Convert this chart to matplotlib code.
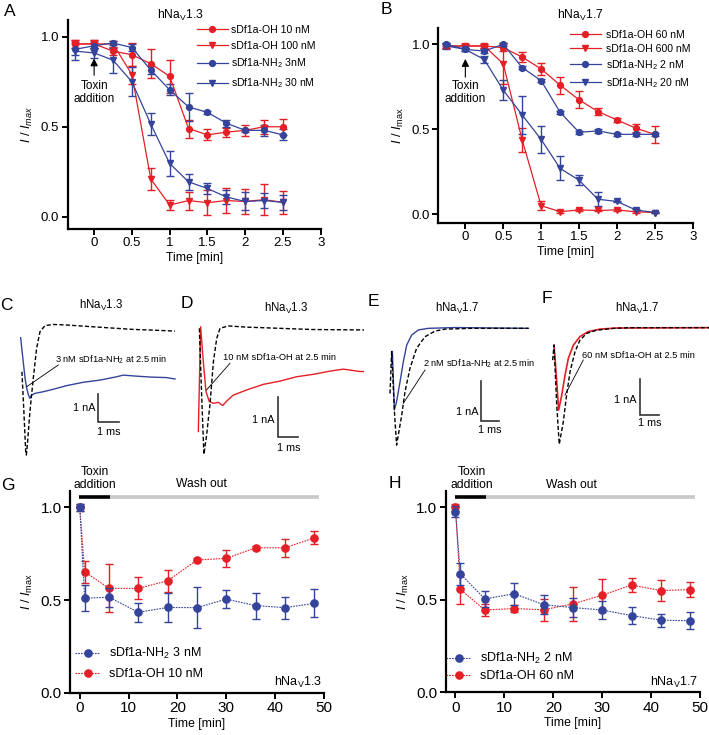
import matplotlib
matplotlib.use('Agg')
import matplotlib.pyplot as plt
from matplotlib.lines import Line2D

plt.rcParams['font.family'] = ['Liberation Sans', 'DejaVu Sans']
plt.rcParams['mathtext.fontset'] = 'custom'
plt.rcParams['mathtext.rm'] = 'Liberation Sans'
plt.rcParams['mathtext.it'] = 'Liberation Sans:italic'
plt.rcParams['mathtext.bf'] = 'Liberation Sans:bold'

RED = '#e41f26'
BLUE = '#34449a'

# ---------------- data: panel A (hNav1.3 time course) ----------------
tA = [-0.25, 0, 0.25, 0.5, 0.75, 1.0, 1.25, 1.5, 1.75, 2.0, 2.25, 2.5]
A_oh10 = [0.96, 0.96, 0.92, 0.90, 0.85, 0.78, 0.49, 0.455, 0.47, 0.48, 0.50, 0.50]
A_oh10_err = [0.02, 0.02, 0.02, 0.065, 0.08, 0.09, 0.05, 0.03, 0.025, 0.03, 0.04, 0.045]
A_oh100 = [0.96, 0.96, 0.96, 0.79, 0.21, 0.065, 0.09, 0.078, 0.09, 0.085, 0.095, 0.08]
A_oh100_err = [0.02, 0.02, 0.015, 0.05, 0.06, 0.03, 0.05, 0.07, 0.07, 0.07, 0.085, 0.065]
A_nh3 = [0.93, 0.95, 0.965, 0.94, 0.815, 0.705, 0.61, 0.58, 0.52, 0.48, 0.48, 0.455]
A_nh3_err = [0.03, 0.02, 0.01, 0.02, 0.02, 0.03, 0.08, 0.01, 0.02, 0.01, 0.03, 0.03]
A_nh30 = [0.92, 0.91, 0.87, 0.75, 0.515, 0.296, 0.194, 0.157, 0.11, 0.085, 0.09, 0.08]
A_nh30_err = [0.05, 0.03, 0.07, 0.08, 0.06, 0.07, 0.045, 0.03, 0.04, 0.05, 0.04, 0.04]

# ---------------- data: panel B (hNav1.7 time course) ----------------
tB = [-0.25, 0, 0.25, 0.5, 0.75, 1.0, 1.25, 1.5, 1.75, 2.0, 2.25, 2.5]
B_oh60 = [0.99, 0.99, 0.99, 0.98, 0.925, 0.855, 0.76, 0.673, 0.604, 0.555, 0.506, 0.47]
B_oh60_err = [0.01, 0.01, 0.01, 0.02, 0.03, 0.035, 0.05, 0.05, 0.02, 0.01, 0.025, 0.05]
B_oh600 = [0.99, 0.99, 0.99, 0.885, 0.437, 0.05, 0.015, 0.025, 0.022, 0.025, 0.014, 0.01]
B_oh600_err = [0.01, 0.01, 0.01, 0.12, 0.07, 0.025, 0.005, 0.005, 0.005, 0.005, 0.005, 0.005]
B_nh2 = [1.0, 0.97, 0.96, 1.0, 0.863, 0.786, 0.60, 0.482, 0.49, 0.47, 0.47, 0.47]
B_nh2_err = [0.01, 0.01, 0.01, 0.01, 0.01, 0.01, 0.01, 0.01, 0.01, 0.01, 0.01, 0.01]
B_nh20 = [0.99, 0.97, 0.91, 0.73, 0.584, 0.44, 0.27, 0.20, 0.088, 0.075, 0.025, 0.01]
B_nh20_err = [0.02, 0.01, 0.02, 0.06, 0.11, 0.08, 0.07, 0.03, 0.04, 0.005, 0.005, 0.005]

# ---------------- data: panels G/H (wash out) ----------------
tW = [0, 1, 6, 12, 18, 24, 30, 36, 42, 48]
G_nh3 = [1.0, 0.51, 0.515, 0.434, 0.46, 0.459, 0.505, 0.47, 0.459, 0.482]
G_nh3_err = [0.02, 0.07, 0.05, 0.05, 0.08, 0.11, 0.05, 0.07, 0.06, 0.075]
G_oh10 = [1.0, 0.653, 0.563, 0.563, 0.604, 0.716, 0.725, 0.782, 0.782, 0.835]
G_oh10_err = [0.02, 0.06, 0.13, 0.06, 0.06, 0.01, 0.045, 0.01, 0.05, 0.035]
H_nh2 = [0.977, 0.64, 0.505, 0.533, 0.474, 0.458, 0.445, 0.415, 0.39, 0.387]
H_nh2_err = [0.03, 0.06, 0.045, 0.06, 0.05, 0.05, 0.05, 0.045, 0.035, 0.045]
H_oh60 = [1.0, 0.556, 0.445, 0.453, 0.446, 0.478, 0.525, 0.58, 0.55, 0.555]
H_oh60_err = [0.02, 0.08, 0.03, 0.02, 0.06, 0.09, 0.09, 0.04, 0.055, 0.04]

# ---------------- data: current traces (ms, nA) ----------------
C_ctrl_t = [0.06, 0.16, 0.24, 0.27, 0.33, 0.44, 0.60, 0.76, 0.92, 1.16, 1.56, 2.19, 2.98, 3.78, 4.57, 5.37, 6.16, 7.35]
C_ctrl_i = [-1.51, -3.07, -4.40, -4.52, -4.04, -2.95, -1.75, -0.66, -0.06, 0.16, 0.20, 0.18, 0.14, 0.10, 0.06, 0.02, 0.0, -0.04]
C_tox_t = [0.0, 0.06, 0.13, 0.21, 0.29, 0.37, 0.44, 0.52, 0.68, 1.08, 1.56, 2.19, 2.98, 3.78, 4.57, 4.89, 5.37, 6.16, 6.95, 7.35]
C_tox_i = [-0.28, -0.72, -1.20, -1.75, -2.11, -2.35, -2.47, -2.35, -2.29, -2.23, -2.14, -2.01, -1.89, -1.81, -1.69, -1.63, -1.66, -1.70, -1.72, -1.77]

D_ctrl_t = [0.05, 0.16, 0.27, 0.40, 0.56, 0.73, 0.89, 1.05, 1.45, 2.34, 3.95, 5.56, 7.82, 8.15]
D_ctrl_i = [0.0, -1.67, -3.15, -2.67, -1.92, -0.83, -0.25, 0.0, 0.06, 0.03, 0.0, -0.03, -0.04, -0.04]
D_tox_t = [0.0, 0.11, 0.24, 0.37, 0.53, 0.73, 0.97, 1.18, 1.37, 1.69, 2.34, 3.15, 3.95, 4.76, 5.56, 6.37, 7.02, 7.82, 8.15]
D_tox_i = [-2.58, 0.04, -0.83, -1.58, -1.83, -1.875, -1.85, -1.93, -1.82, -1.67, -1.54, -1.40, -1.32, -1.21, -1.15, -1.07, -1.02, -1.08, -1.08]

E_ctrl_t = [0.0, 0.09, 0.24, 0.36, 0.64, 0.82, 1.09, 1.45, 1.91, 2.45, 3.0, 4.45, 6.27, 7.55]
E_ctrl_i = [-1.63, -0.58, -2.08, -2.92, -2.17, -1.58, -1.0, -0.5, -0.21, -0.07, -0.02, 0.0, 0.0, 0.0]
E_tox_t = [0.13, 0.24, 0.36, 0.55, 0.73, 0.91, 1.18, 1.55, 2.09, 3.55, 5.36, 7.55]
E_tox_i = [-0.58, -2.04, -1.83, -1.33, -0.83, -0.42, -0.17, -0.04, 0.0, 0.02, 0.01, 0.0]

F_ctrl_t = [0.0, 0.07, 0.21, 0.34, 0.55, 0.72, 0.90, 1.16, 1.41, 1.76, 2.28, 3.14, 4.0, 8.14]
F_ctrl_i = [-0.91, -0.49, -2.17, -3.27, -2.64, -1.89, -1.23, -0.67, -0.35, -0.16, -0.07, -0.02, 0.0, 0.0]
F_tox_t = [0.07, 0.21, 0.31, 0.47, 0.64, 0.81, 1.07, 1.41, 1.84, 2.45, 3.31, 8.14]
F_tox_i = [-0.49, -1.51, -2.31, -1.89, -1.33, -0.86, -0.49, -0.25, -0.11, -0.04, -0.01, 0.0]

# ---------------- figure helpers ----------------
W, H = 709, 735
fig = plt.figure(figsize=(W / 100, H / 100), dpi=100)


def axes_px(l, t, r, b):
    return fig.add_axes([l / W, 1 - b / H, (r - l) / W, (b - t) / H])


def ftext(x, y, s, **kw):
    kw.setdefault('ha', 'center')
    kw.setdefault('va', 'center')
    fig.text(x / W, 1 - y / H, s, **kw)


def fline(x0, y0, x1, y1, **kw):
    fig.add_artist(Line2D([x0 / W, x1 / W], [1 - y0 / H, 1 - y1 / H],
                          transform=fig.transFigure, **kw))


def style(ax, fs):
    for s in ['top', 'right']:
        ax.spines[s].set_visible(False)
    for s in ['left', 'bottom']:
        ax.spines[s].set_linewidth(1.6)
    ax.tick_params(direction='out', length=4, width=1.4, labelsize=fs, pad=2)


def series(ax, t, y, e, color, marker, label, ms, ls='-', lw=0.9, z=2):
    ax.errorbar(t, y, yerr=e, fmt='none', ecolor=color, elinewidth=1.0,
                capsize=3, capthick=1.0, zorder=z)
    ax.plot(t, y, color=color, marker=marker, ms=ms, lw=lw, ls=ls,
            label=label, zorder=z + 0.5)


# ---------------- panel A ----------------
axA = axes_px(67.7, 20, 320.7, 229)
style(axA, 9.5)
series(axA, tA, A_oh10, A_oh10_err, RED, 'o', 'sDf1a-OH 10 nM', 4.2)
series(axA, tA, A_oh100, A_oh100_err, RED, 'v', 'sDf1a-OH 100 nM', 4.5)
series(axA, tA, A_nh3, A_nh3_err, BLUE, 'o', r'sDf1a-NH$_2$ 3nM', 4.2)
series(axA, tA, A_nh30, A_nh30_err, BLUE, 'v', r'sDf1a-NH$_2$ 30 nM', 4.5)
axA.set_xlim(-0.35, 3)
axA.set_ylim(-0.068, 1.093)
axA.set_xticks([0, 0.5, 1, 1.5, 2, 2.5, 3])
axA.set_xticklabels(['0', '0.5', '1', '1.5', '2', '2.5', '3'])
axA.set_yticks([0, 0.5, 1.0])
axA.set_yticklabels(['0.0', '0.5', '1.0'])
axA.set_xlabel('Time [min]', fontsize=8.8, labelpad=2)
axA.set_ylabel(r'$I\ /\ I_{max}$', fontsize=9.2, labelpad=4)
axA.annotate('', xy=(0, 0.895), xytext=(0, 0.77),
             arrowprops=dict(arrowstyle='-|>', color='black', lw=0.8, mutation_scale=11))
axA.text(0, 0.69, 'Toxin\naddition', ha='center', va='center', fontsize=8.5, linespacing=1.15)
axA.legend(loc='upper left', bbox_to_anchor=(197 / W, 1 - 25 / H),
           bbox_transform=fig.transFigure, frameon=False, fontsize=7.6,
           handlelength=2.9, handletextpad=0.35, labelspacing=0.55,
           borderpad=0, borderaxespad=0)

# ---------------- panel B ----------------
axB = axes_px(438.3, 28.3, 692.7, 222.7)
style(axB, 9.5)
series(axB, tB, B_oh60, B_oh60_err, RED, 'o', 'sDf1a-OH 60 nM', 4.2)
series(axB, tB, B_oh600, B_oh600_err, RED, 'v', 'sDf1a-OH 600 nM', 4.5)
series(axB, tB, B_nh2, B_nh2_err, BLUE, 'o', r'sDf1a-NH$_2$ 2 nM', 4.2)
series(axB, tB, B_nh20, B_nh20_err, BLUE, 'v', r'sDf1a-NH$_2$ 20 nM', 4.5)
axB.set_xlim(-0.357, 3)
axB.set_ylim(-0.05, 1.094)
axB.set_xticks([0, 0.5, 1, 1.5, 2, 2.5, 3])
axB.set_xticklabels(['0', '0.5', '1', '1.5', '2', '2.5', '3'])
axB.set_yticks([0, 0.5, 1.0])
axB.set_yticklabels(['0.0', '0.5', '1.0'])
axB.set_xlabel('Time [min]', fontsize=8.8, labelpad=2)
axB.set_ylabel(r'$I\ /\ I_\mathrm{max}$', fontsize=9.2, labelpad=4)
axB.annotate('', xy=(0, 0.93), xytext=(0, 0.79),
             arrowprops=dict(arrowstyle='-|>', color='black', lw=0.8, mutation_scale=11))
axB.text(0, 0.715, 'Toxin\naddition', ha='center', va='center', fontsize=8.5, linespacing=1.15)
axB.legend(loc='upper left', bbox_to_anchor=(570 / W, 1 - 29.5 / H),
           bbox_transform=fig.transFigure, frameon=False, fontsize=7.6,
           handlelength=2.9, handletextpad=0.5, labelspacing=0.4,
           borderpad=0, borderaxespad=0)


# ---------------- trace panels C-F ----------------
def trace_axes(box, x0, y0, ppms, ppna):
    l, t, r, b = box
    ax = axes_px(l, t, r, b)
    ax.set_xlim((l - x0) / ppms, (r - x0) / ppms)
    ax.set_ylim(-(b - y0) / ppna, -(t - y0) / ppna)
    ax.axis('off')
    return ax


def scalebar(ax, cx, cy, x0, y0, ppms, ppna):
    tx = (cx - x0) / ppms
    ty = -(cy - y0) / ppna
    ax.plot([tx, tx, tx + 1], [ty + 1, ty, ty], color='#333333', lw=1.2,
            solid_joinstyle='miter', clip_on=False)


DASH = (0, (3, 1.6))

# C
cC = dict(x0=20.67, y0=330, ppms=21.0, ppna=27.67)
axC = trace_axes((0, 300, 180, 470), **cC)
axC.plot(C_tox_t, C_tox_i, color=BLUE, lw=1.0)
axC.plot(C_ctrl_t, C_ctrl_i, color='black', lw=1.0, ls=DASH)
scalebar(axC, 98.3, 421.7, **cC)
ftext(95, 408, '1 nA', ha='right', fontsize=7.8)
ftext(108.8, 432, '1 ms', fontsize=7.8)
ftext(101.7, 305, r'hNa$_\mathrm{V}$1.3', fontsize=8.3)
ftext(55, 360, r'3 nM sDf1a-NH$_2$ at 2.5 min', ha='left', fontsize=6.7)
fline(58.3, 365, 26.7, 386.7, color='black', lw=0.6)

# D
cD = dict(x0=198.33, y0=328.33, ppms=20.67, ppna=40.0)
axD = trace_axes((182, 300, 364, 470), **cD)
axD.plot(D_tox_t, D_tox_i, color=RED, lw=1.0)
axD.plot(D_ctrl_t, D_ctrl_i, color='black', lw=1.0, ls=DASH)
scalebar(axD, 277.7, 436.7, **cD)
ftext(274.3, 420, '1 nA', ha='right', fontsize=7.8)
ftext(288.3, 447.7, '1 ms', fontsize=7.8)
ftext(286.7, 308.3, r'hNa$_\mathrm{V}$1.3', fontsize=8.3)
ftext(223.3, 357.7, '10 nM sDf1a-OH at 2.5 min', ha='left', fontsize=6.7)
fline(230, 363.3, 206.5, 390, color='black', lw=0.6)

# E
cE = dict(x0=390.0, y0=328.33, ppms=18.33, ppna=40.0)
axE = trace_axes((364, 300, 532, 470), **cE)
axE.plot(E_tox_t, E_tox_i, color=BLUE, lw=1.0)
axE.plot(E_ctrl_t, E_ctrl_i, color='black', lw=1.0, ls=DASH)
scalebar(axE, 481, 421, **cE)
ftext(478.3, 411.7, '1 nA', ha='right', fontsize=7.8)
ftext(490.2, 430, '1 ms', fontsize=7.8)
ftext(456.7, 308.3, r'hNa$_\mathrm{V}$1.7', fontsize=8.3)
ftext(423.3, 363.3, r'2 nM sDf1a-NH$_2$ at 2.5 min', ha='left', fontsize=6.7)
fline(425, 370, 403.3, 403.3, color='black', lw=0.6)

# F
cF = dict(x0=552.67, y0=327.67, ppms=19.33, ppna=35.67)
axF = trace_axes((532, 300, 709, 470), **cF)
axF.plot(F_tox_t, F_tox_i, color=RED, lw=1.2)
axF.plot(F_ctrl_t, F_ctrl_i, color='black', lw=1.0, ls=DASH)
scalebar(axF, 640, 415, **cF)
ftext(636.7, 400, '1 nA', ha='right', fontsize=7.8)
ftext(649.7, 423.3, '1 ms', fontsize=7.8)
ftext(636.7, 308.3, r'hNa$_\mathrm{V}$1.7', fontsize=8.3)
ftext(581.7, 355, '60 nM sDf1a-OH at 2.5 min', ha='left', fontsize=6.7)
fline(583.3, 360, 565, 395, color='black', lw=0.6)

# ---------------- panels G / H ----------------
DOT = (0, (1.5, 1.0))


def washout(ax, red, red_e, blue, blue_e, lab_b, lab_r, chan, leg_anchor, lspace):
    style(ax, 11)
    series(ax, tW, red, red_e, RED, 'o', lab_r, 5.2, ls=DOT, lw=0.8, z=2)
    series(ax, tW, blue, blue_e, BLUE, 'o', lab_b, 5.2, ls=DOT, lw=0.8, z=3)
    ax.set_xlim(-2.0, 50)
    ax.set_ylim(0, 1.09)
    ax.set_xticks([0, 10, 20, 30, 40, 50])
    ax.set_yticks([0, 0.5, 1.0])
    ax.set_yticklabels(['0.0', '0.5', '1.0'])
    ax.set_xlabel('Time [min]', fontsize=8.8, labelpad=2)
    ax.set_ylabel(r'$I\ /\ I_\mathrm{max}$', fontsize=9.2, labelpad=4)
    ax.plot([-0.2, 6.2], [1.058, 1.058], color='black', lw=2.6,
            solid_capstyle='butt', clip_on=False)
    ax.plot([6.2, 49], [1.058, 1.058], color='#c8c8c8', lw=2.6,
            solid_capstyle='butt', clip_on=False)
    ax.text(49.5, 0.015, chan, ha='right', va='bottom', fontsize=9)
    h, l = ax.get_legend_handles_labels()
    ax.legend(h[::-1], l[::-1], loc='upper left', bbox_to_anchor=leg_anchor,
              bbox_transform=fig.transFigure, frameon=False, fontsize=9,
              handlelength=2.0, handletextpad=0.7, labelspacing=lspace,
              numpoints=1, borderpad=0, borderaxespad=0)


axG = axes_px(70, 490.7, 324, 692.7)
washout(axG, G_oh10, G_oh10_err, G_nh3, G_nh3_err,
        r'sDf1a-NH$_2$ 3 nM', 'sDf1a-OH 10 nM', r'hNa$_\mathrm{V}$1.3',
        (75 / W, 1 - 646 / H), 0.55)
ftext(95, 471.7, 'Toxin', fontsize=8.7)
ftext(95, 485, 'addition', fontsize=8.7)
ftext(201.7, 484, 'Wash out', fontsize=8.7)

axH = axes_px(445.7, 490.7, 700, 692.3)
washout(axH, H_oh60, H_oh60_err, H_nh2, H_nh2_err,
        r'sDf1a-NH$_2$ 2 nM', 'sDf1a-OH 60 nM', r'hNa$_\mathrm{V}$1.7',
        (446 / W, 1 - 651 / H), 0.35)
ftext(471.7, 471.7, 'Toxin', fontsize=8.7)
ftext(471.7, 485, 'addition', fontsize=8.7)
ftext(571.7, 485, 'Wash out', fontsize=8.7)

# ---------------- panel letters ----------------
for letter, x, y in [('A', 10, 12), ('B', 386.7, 10), ('C', 6.7, 305),
                     ('D', 186.7, 303.3), ('E', 373.3, 301.7), ('F', 547, 299),
                     ('G', 8, 485), ('H', 395, 483)]:
    ftext(x, y, letter, fontsize=12.5)

ftext(180, 15, r'hNa$_\mathrm{V}$1.3', fontsize=8.7)
ftext(580, 15, r'hNa$_\mathrm{V}$1.7', fontsize=8.7)

fig.savefig('out.png', dpi=100)
